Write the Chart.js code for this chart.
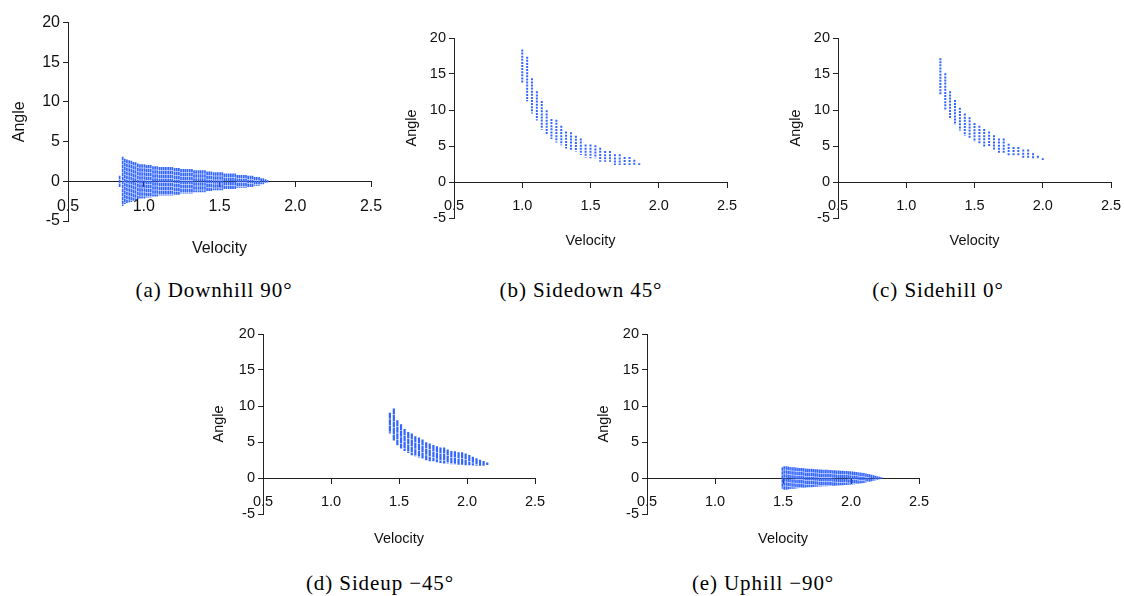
<!DOCTYPE html>
<html>
<head>
<meta charset="utf-8">
<script src="https://cdn.jsdelivr.net/npm/chart.js@4.4.1/dist/chart.umd.min.js"></script>
<style>
  body { margin: 0; background: #fff; width: 1124px; height: 596px; position: relative; overflow: hidden; }
  canvas { position: absolute; }
  .cap {
    position: absolute; transform: translate(-50%, -50%);
    font-family: "Liberation Serif", serif; font-size: 21px; letter-spacing: 0.9px;
    color: #000; white-space: nowrap;
  }
</style>
</head>
<body>
<canvas id="downhill" width="379" height="252" style="left:6px;top:10px"></canvas>
<canvas id="sidedown" width="342" height="228" style="left:399px;top:26px"></canvas>
<canvas id="sidehill" width="340" height="228" style="left:783px;top:26px"></canvas>
<canvas id="sideup" width="343" height="230" style="left:206px;top:322px"></canvas>
<canvas id="uphill" width="342" height="230" style="left:591px;top:322px"></canvas>

<div class="cap" style="left:214px;top:290px">(a) Downhill 90°</div>
<div class="cap" style="left:581px;top:290px">(b) Sidedown 45°</div>
<div class="cap" style="left:938px;top:290px">(c) Sidehill 0°</div>
<div class="cap" style="left:380px;top:583px">(d) Sideup −45°</div>
<div class="cap" style="left:763px;top:583px">(e) Uphill −90°</div>

<script>
// axis ticks shared by all five plots
const xTicks = [0.5, 1.0, 1.5, 2.0, 2.5];
const yTicks = [-5, 0, 5, 10, 15, 20];

// (a) downhill: velocity columns and half-spread of angle (symmetric about 0)
const velDown = [0.841, 0.861, 0.875, 0.889, 0.904, 0.918, 0.932, 0.946, 0.961, 0.975,
  0.989, 1.004, 1.018, 1.032, 1.046, 1.061, 1.075, 1.089, 1.104, 1.118,
  1.132, 1.146, 1.161, 1.175, 1.189, 1.204, 1.218, 1.232, 1.246, 1.261,
  1.275, 1.289, 1.304, 1.318, 1.332, 1.346, 1.361, 1.375, 1.389, 1.404,
  1.418, 1.432, 1.446, 1.461, 1.475, 1.489, 1.504, 1.518, 1.532, 1.546,
  1.561, 1.575, 1.589, 1.604, 1.618, 1.632, 1.646, 1.661, 1.675, 1.689,
  1.704, 1.718, 1.732, 1.746, 1.761, 1.775, 1.789, 1.804, 1.818];
const spreadDown = [0.7, 3.1, 2.85, 2.75, 2.65, 2.6, 2.45, 2.4, 2.25, 2.15,
  2.15, 2.15, 2.05, 2.05, 2.05, 1.9, 1.9, 1.9, 1.8, 1.8,
  1.8, 1.8, 1.8, 1.8, 1.8, 1.68, 1.68, 1.68, 1.55, 1.55,
  1.55, 1.55, 1.55, 1.55, 1.38, 1.38, 1.38, 1.38, 1.38, 1.38,
  1.25, 1.25, 1.25, 1.13, 1.13, 1.13, 1.13, 1.13, 0.97, 0.97,
  0.97, 0.97, 0.97, 0.97, 0.8, 0.8, 0.8, 0.8, 0.8, 0.7,
  0.7, 0.7, 0.55, 0.55, 0.55, 0.38, 0.38, 0.25, 0.15];

// (b) sidedown
const velSideDown = [1.000, 1.036, 1.071, 1.107, 1.143, 1.179, 1.214, 1.250, 1.286, 1.321,
  1.357, 1.393, 1.429, 1.464, 1.500, 1.536, 1.571, 1.607, 1.643, 1.679,
  1.714, 1.750, 1.786, 1.821, 1.857];
const hiSideDown = [18.4, 17.4, 14.4, 12.6, 11.25, 9.95, 8.75, 8.65, 7.8, 7.0,
  6.9, 6.43, 6.05, 5.2, 5.2, 5.1, 4.76, 4.3, 4.3, 3.85,
  3.85, 3.47, 3.47, 3.1, 2.6];
const loSideDown = [13.8, 11.2, 9.5, 8.55, 7.26, 6.5, 5.97, 5.5, 5.1, 4.67,
  4.3, 4.2, 3.75, 3.4, 3.3, 3.3, 2.8, 2.8, 2.8, 2.36,
  2.36, 2.36, 2.36, 2.36, 2.35];

// (c) sidehill
const velSideHill = [1.250, 1.286, 1.321, 1.357, 1.393, 1.429, 1.464, 1.500, 1.536, 1.571,
  1.607, 1.643, 1.679, 1.714, 1.750, 1.786, 1.821, 1.857, 1.893, 1.929,
  1.964, 2.000];
const hiSideHill = [17.2, 15.1, 12.6, 11.4, 10.3, 9.5, 9.0, 8.2, 7.8, 7.36,
  7.0, 6.5, 6.05, 6.05, 5.3, 4.86, 4.86, 4.5, 4.5, 4.0,
  3.65, 3.3];
const loSideHill = [12.1, 9.95, 8.75, 7.9, 7.17, 6.43, 6.05, 5.6, 5.2, 4.86,
  4.86, 4.4, 4.0, 4.0, 3.65, 3.65, 3.65, 3.2, 3.2, 3.2,
  3.2, 3.05];

// (d) sideup
const velSideUp = [1.433, 1.462, 1.488, 1.515, 1.541, 1.568, 1.594, 1.620, 1.647, 1.673,
  1.700, 1.726, 1.753, 1.779, 1.805, 1.832, 1.858, 1.885, 1.911, 1.938,
  1.964, 1.990, 2.017, 2.043, 2.070, 2.096, 2.122, 2.149];
const hiSideUp = [9.05, 9.66, 8.03, 7.47, 6.82, 6.4, 6.18, 5.8, 5.62, 5.34,
  4.97, 4.79, 4.6, 4.41, 4.23, 4.23, 3.95, 3.76, 3.7, 3.58,
  3.58, 3.4, 3.2, 2.95, 2.75, 2.55, 2.35, 2.15];
const loSideUp = [6.18, 5.15, 4.55, 4.09, 3.76, 3.48, 3.16, 3.02, 2.84, 2.7,
  2.46, 2.32, 2.32, 2.19, 2.09, 2.0, 2.0, 1.9, 1.86, 1.77,
  1.77, 1.77, 1.77, 1.72, 1.7, 1.7, 1.7, 1.8];

// (e) uphill: symmetric about 0 like downhill
const velUp = [1.495, 1.509, 1.524, 1.538, 1.552, 1.567, 1.581, 1.595, 1.610, 1.624,
  1.638, 1.652, 1.667, 1.681, 1.695, 1.710, 1.724, 1.738, 1.752, 1.767,
  1.781, 1.795, 1.810, 1.824, 1.838, 1.852, 1.867, 1.881, 1.895, 1.910,
  1.924, 1.938, 1.952, 1.967, 1.981, 1.995, 2.010, 2.024, 2.038, 2.052,
  2.067, 2.081, 2.095, 2.110, 2.124, 2.138, 2.152, 2.167, 2.181, 2.195,
  2.210, 2.224];
const spreadUp = [1.5, 1.62, 1.62, 1.58, 1.52, 1.5, 1.48, 1.45, 1.42, 1.4,
  1.38, 1.35, 1.33, 1.3, 1.28, 1.27, 1.25, 1.23, 1.2, 1.18,
  1.17, 1.16, 1.15, 1.13, 1.12, 1.1, 1.08, 1.07, 1.05, 1.03,
  1.02, 1.0, 0.98, 0.96, 0.95, 0.93, 0.9, 0.87, 0.84, 0.8,
  0.76, 0.72, 0.68, 0.63, 0.57, 0.51, 0.45, 0.38, 0.31, 0.25,
  0.18, 0.1];

const BLUE = '#3366ff';
const AXIS = '#222';
const TEXT = '#111';

// every column is a vertical segment hi -> lo, split from the next by a null
function columns(vel, lo, hi) {
  const pts = [];
  vel.forEach((v, i) => {
    pts.push({ x: v, y: hi[i] }, { x: v, y: lo[i] }, { x: v, y: null });
  });
  return pts;
}

function plot(id, pts, o) {
  const font = { family: '"Liberation Sans", Arial, sans-serif', size: o.fs };
  new Chart(document.getElementById(id), {
    type: 'scatter',
    data: {
      datasets: [{
        data: pts,
        showLine: true,
        spanGaps: false,
        borderColor: BLUE,
        borderWidth: o.lw,
        borderDash: o.dash,
        pointRadius: 0,
        pointHoverRadius: 0
      }]
    },
    options: {
      responsive: false,
      animation: false,
      devicePixelRatio: 1,
      events: [],
      layout: { padding: { top: o.padTop, right: o.padRight, left: 0, bottom: 0 } },
      plugins: { legend: { display: false }, tooltip: { enabled: false } },
      scales: {
        x: {
          type: 'linear', min: 0.5, max: 2.5, z: 1,
          position: { y: 0 },
          afterBuildTicks: s => { s.ticks = xTicks.map(v => ({ value: v })); },
          // end labels may hang over the edges; layout padding handles that
          afterFit: s => { s.paddingLeft = 0; s.paddingRight = 0; },
          ticks: { callback: v => v.toFixed(1), font, color: TEXT, padding: o.xPad, maxRotation: 0 },
          grid: { drawOnChartArea: false, drawTicks: true, tickLength: 5, color: AXIS },
          border: { color: AXIS, width: 1 }
        },
        y: {
          type: 'linear', min: -5, max: 20, position: 'left', z: 1,
          afterBuildTicks: s => { s.ticks = yTicks.map(v => ({ value: v })); },
          afterFit: s => { s.width = o.yW; },
          ticks: { callback: v => String(v), font, color: TEXT, padding: 3 },
          grid: { drawOnChartArea: false, drawTicks: true, tickLength: 5, color: AXIS },
          border: { color: AXIS, width: 1 },
          title: { display: true, text: 'Angle', font, color: TEXT, padding: { top: 4, bottom: 4 } }
        },
        velocityTitle: {
          type: 'linear', axis: 'x', position: 'bottom', min: 0, max: 1,
          afterFit: s => { s.height = o.xH; },
          ticks: { display: false },
          grid: { display: false },
          border: { display: false },
          title: { display: true, text: 'Velocity', font, color: TEXT, padding: { top: 4, bottom: 4 } }
        }
      }
    }
  });
}

const big = { fs: 16, xPad: 11, yW: 62, xH: 41, padTop: 12, padRight: 14 };
const small = { fs: 14.5, xPad: 10, yW: 55, xH: 36, padTop: 12, padRight: 14 };

plot('downhill', columns(velDown, spreadDown.map(a => -a), spreadDown),
  { ...big, lw: 1.7, dash: [3.5, 0.5] });
plot('sidedown', columns(velSideDown, loSideDown, hiSideDown),
  { ...small, lw: 2, dash: [2, 1.1] });
plot('sidehill', columns(velSideHill, loSideHill, hiSideHill),
  { ...small, padRight: 12, lw: 2, dash: [2, 1.1] });
plot('sideup', columns(velSideUp, loSideUp, hiSideUp),
  { ...small, yW: 57, xH: 38, lw: 2.2, dash: [6, 0.5] });
plot('uphill', columns(velUp, spreadUp.map(a => -a), spreadUp),
  { ...small, yW: 56, xH: 38, lw: 1.6, dash: [3.5, 0.5] });
</script>
</body>
</html>
